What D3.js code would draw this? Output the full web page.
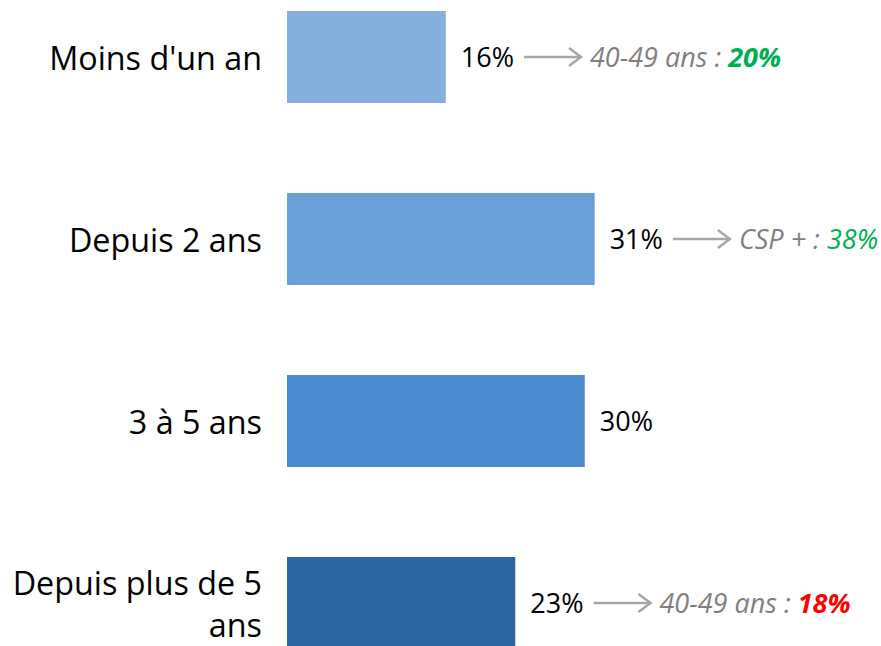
<!DOCTYPE html>
<html>
<head>
<meta charset="utf-8">
<script src="https://cdn.jsdelivr.net/npm/d3@7"></script>
<style>
  body { margin: 0; background: #fff; }
  text { font-family: "Open Sans", sans-serif; }
</style>
</head>
<body>
<div id="chart"></div>
<script>
// chart values
var categories = ["Moins d'un an", "Depuis 2 ans", "3 à 5 ans", "Depuis plus de 5 ans"];
var values = [16, 31, 30, 23];
var barColors = ["#85B0DD", "#6A9FD7", "#4A8CCF", "#2D65A0"];

// side notes (null = no note)
var noteLabels = ["40-49 ans : ", "CSP + : ", null, "40-49 ans : "];
var noteValues = ["20%", "38%", null, "18%"];
var noteColors = ["#00B050", "#00B050", null, "#FF0000"];
var noteBold = [true, false, null, true];

var svgWidth = 881;
var svgHeight = 646;

var svg = d3.select("#chart")
  .append("svg")
  .attr("width", svgWidth)
  .attr("height", svgHeight);

// scales
var xScale = d3.scaleLinear()
  .domain([0, 40])
  .range([287, 684]);

var yScale = d3.scaleBand()
  .domain(categories)
  .range([11, 649])
  .paddingInner(90 / 182)
  .paddingOuter(0);

var data = categories.map(function(c, i) {
  return {
    cat: c,
    value: values[i],
    color: barColors[i],
    noteLabel: noteLabels[i],
    noteValue: noteValues[i],
    noteColor: noteColors[i],
    noteBold: noteBold[i]
  };
});

// bars
svg.selectAll("rect.bar")
  .data(data)
  .enter()
  .append("rect")
  .attr("class", "bar")
  .attr("x", xScale(0))
  .attr("y", d => yScale(d.cat))
  .attr("width", d => xScale(d.value) - xScale(0))
  .attr("height", yScale.bandwidth())
  .attr("fill", d => d.color);

// category labels, wrapped when too wide
var catFont = 32.3;
var lineGap = 42;
var cats = svg.selectAll("text.cat")
  .data(data)
  .enter()
  .append("text")
  .attr("class", "cat")
  .attr("text-anchor", "end")
  .attr("font-size", catFont)
  .attr("fill", "#000");

function textLen(sel) {
  return sel.node().getComputedTextLength();
}

cats.each(function(d) {
  var t = d3.select(this);
  var words = d.cat.split(" ");
  var lines = [];
  var cur = [];
  words.forEach(function(w) {
    cur.push(w);
    t.text(cur.join(" "));
    if (textLen(t) > 258 && cur.length > 1) {
      cur.pop();
      lines.push(cur.join(" "));
      cur = [w];
    }
  });
  lines.push(cur.join(" "));
  t.text(null);
  var cy = yScale(d.cat) + yScale.bandwidth() / 2;
  var first = cy + 13 - (lines.length - 1) * lineGap / 2;
  lines.forEach(function(l, k) {
    t.append("tspan")
      .attr("x", 262)
      .attr("y", first + k * lineGap)
      .text(l);
  });
});

// value labels
var valFont = 27;
var vals = svg.selectAll("text.val")
  .data(data)
  .enter()
  .append("text")
  .attr("class", "val")
  .attr("x", d => xScale(d.value) + 15)
  .attr("y", d => yScale(d.cat) + yScale.bandwidth() / 2 + 10)
  .attr("font-size", valFont)
  .attr("fill", "#000")
  .text(d => d.value + "%");

// arrows + notes
vals.each(function(d) {
  if (!d.noteLabel) return;
  var end = xScale(d.value) + 15 + this.getComputedTextLength();
  var cy = yScale(d.cat) + yScale.bandwidth() / 2;
  var ax1 = end + 10;
  var ax2 = ax1 + 57;

  svg.append("line")
    .attr("x1", ax1)
    .attr("x2", ax2)
    .attr("y1", cy)
    .attr("y2", cy)
    .attr("stroke", "#A6A6A6")
    .attr("stroke-width", 2.5);

  svg.append("path")
    .attr("d", `M${ax2 - 12},${cy - 9} L${ax2},${cy} L${ax2 - 12},${cy + 9}`)
    .attr("fill", "none")
    .attr("stroke", "#A6A6A6")
    .attr("stroke-width", 2.5);

  var note = svg.append("text")
    .attr("x", ax2 + 9)
    .attr("y", cy + 10)
    .attr("font-size", 27)
    .attr("font-style", "italic");

  note.append("tspan")
    .attr("fill", "#7F7F7F")
    .text(d.noteLabel);

  note.append("tspan")
    .attr("fill", d.noteColor)
    .attr("font-weight", d.noteBold ? "bold" : "normal")
    .text(d.noteValue);
});
</script>
</body>
</html>
